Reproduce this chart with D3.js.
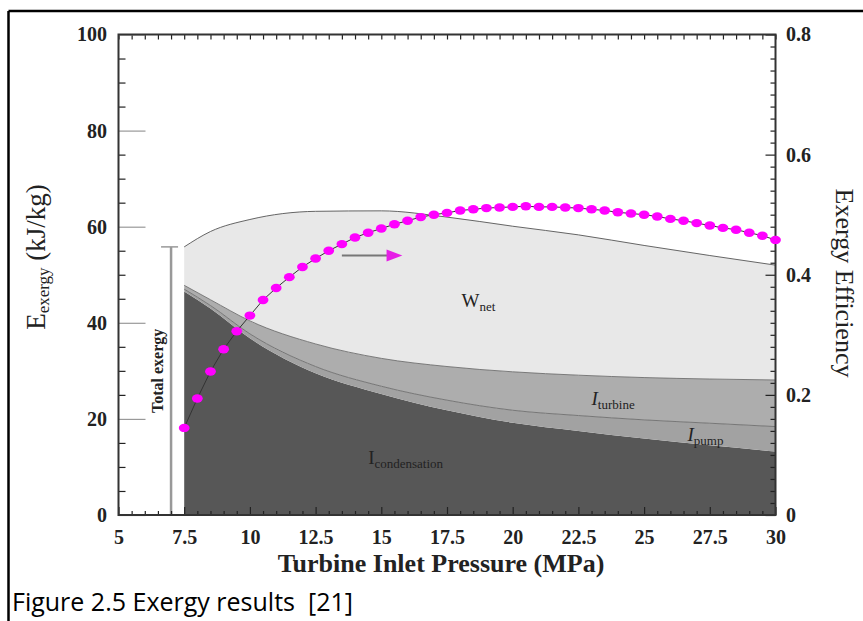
<!DOCTYPE html>
<html>
<head>
<meta charset="utf-8">
<script src="https://cdn.jsdelivr.net/npm/d3@7"></script>
<style>
  body { margin: 0; background: #fff; }
  svg { display: block; }
  .tick text { font-family: "Liberation Serif", "Times New Roman", serif; font-weight: bold; font-size: 20px; fill: #222; }
</style>
</head>
<body>
<div id="chart"></div>
<script>
// stacked exergy components (kJ/kg) read at these pressures (MPa)
var pressure = [7.5, 8.5, 10, 12.5, 15, 17.5, 20, 22.5, 25, 27.5, 30];
var condensation = [46.5, 43.0, 36.8, 29.5, 25.2, 21.8, 19.2, 17.5, 15.9, 14.5, 13.2];
var pump = [0.5, 0.6, 0.9, 1.4, 1.6, 2.1, 2.6, 3.2, 3.9, 4.6, 5.2];
var turbine = [0.8, 1.2, 2.7, 4.7, 5.8, 7.0, 8.0, 8.4, 8.8, 9.2, 9.7];
var wnet = [8.0, 14.2, 21.1, 27.6, 30.7, 31.1, 30.3, 29.2, 27.5, 25.7, 23.9];

// exergy efficiency points
var effPressure = [7.5, 8, 8.5, 9, 9.5, 10, 10.5, 11, 11.5, 12, 12.5, 13, 13.5, 14, 14.5,
  15, 15.5, 16, 16.5, 17, 17.5, 18, 18.5, 19, 19.5, 20, 20.5, 21, 21.5, 22, 22.5,
  23, 23.5, 24, 24.5, 25, 25.5, 26, 26.5, 27, 27.5, 28, 28.5, 29, 29.5, 30];
var efficiency = [0.145, 0.194, 0.239, 0.276, 0.306, 0.332, 0.358, 0.378, 0.396, 0.413,
  0.427, 0.440, 0.451, 0.462, 0.470, 0.477, 0.484, 0.490, 0.496, 0.500, 0.503, 0.507,
  0.509, 0.511, 0.512, 0.513, 0.514, 0.513, 0.513, 0.512, 0.511, 0.509, 0.507, 0.504,
  0.502, 0.500, 0.497, 0.493, 0.490, 0.486, 0.482, 0.478, 0.475, 0.470, 0.465, 0.458];

var xTicks = [5, 7.5, 10, 12.5, 15, 17.5, 20, 22.5, 25, 27.5, 30];
var yTicks = [0, 20, 40, 60, 80, 100];
var effTicks = [0, 0.2, 0.4, 0.6, 0.8];

var W = 863, H = 621;
var svg = d3.select("#chart").append("svg").attr("width", W).attr("height", H);

var x = d3.scaleLinear().domain([5, 30]).range([118.5, 775.5]);
var y = d3.scaleLinear().domain([0, 100]).range([515, 34.5]);
var yR = d3.scaleLinear().domain([0, 0.8]).range([515, 34.5]);

// outer frame (top + left)
svg.append("line").attr("x1", 8.5).attr("y1", 11).attr("x2", W).attr("y2", 11)
  .attr("stroke", "#000").attr("stroke-width", 2.5);
svg.append("line").attr("x1", 8.5).attr("y1", 11).attr("x2", 8.5).attr("y2", H)
  .attr("stroke", "#000").attr("stroke-width", 2.5);

// stacked areas
var table = pressure.map(function(p, i) {
  return {p: p, cond: condensation[i], pump: pump[i], turb: turbine[i], wnet: wnet[i]};
});
var keys = ["cond", "pump", "turb", "wnet"];
var fills = {cond: "#575757", pump: "#a2a2a2", turb: "#adadad", wnet: "#e8e8e8"};
var series = d3.stack().keys(keys)(table);

var area = d3.area()
  .x(function(d) { return x(d.data.p); })
  .y0(function(d) { return y(d[0]); })
  .y1(function(d) { return y(d[1]); })
  .curve(d3.curveMonotoneX);
var topLine = d3.line()
  .x(function(d) { return x(d.data.p); })
  .y(function(d) { return y(d[1]); })
  .curve(d3.curveMonotoneX);

svg.append("g").selectAll("path").data(series).enter().append("path")
  .attr("d", area)
  .attr("fill", function(s) { return fills[s.key]; });
svg.append("g").selectAll("path").data(series).enter().append("path")
  .attr("d", topLine)
  .attr("fill", "none")
  .attr("stroke", function(s) { return s.key == "wnet" ? "#555" : "#6e6e6e"; })
  .attr("stroke-width", function(s) { return s.key == "cond" ? 0 : 0.9; });

// total exergy bracket
var total0 = series[3][0][1];
svg.append("line").attr("x1", x(7.0)).attr("x2", x(7.0)).attr("y1", y(total0)).attr("y2", y(0))
  .attr("stroke", "#999").attr("stroke-width", 2.5);
svg.append("line").attr("x1", x(7.0) - 10).attr("x2", x(7.0) + 7).attr("y1", y(total0)).attr("y2", y(total0))
  .attr("stroke", "#999").attr("stroke-width", 1.5);
svg.append("text")
  .attr("transform", "translate(" + (x(7.0) - 8) + "," + y(30) + ") rotate(-90)")
  .attr("text-anchor", "middle")
  .attr("font-family", "Liberation Serif, serif").attr("font-size", 16).attr("font-weight", "bold")
  .attr("fill", "#222")
  .text("Total exergy");

// axes ticks
function styleAxis(g, color) {
  g.select(".domain").remove();
  g.selectAll(".tick line").attr("stroke", color || "#222").attr("stroke-width", 1.2);
}
var minorX = d3.range(5, 30.01, 0.5).filter(function(v) { return xTicks.indexOf(v) < 0; });
svg.append("g").attr("transform", "translate(0,515)")
  .call(d3.axisBottom(x).tickValues(minorX).tickSize(-4).tickFormat(""))
  .call(styleAxis);
svg.append("g").attr("transform", "translate(0,515)")
  .call(d3.axisBottom(x).tickValues(xTicks).tickSize(-8).tickPadding(15)
    .tickFormat(function(d) { return d; }))
  .call(styleAxis);
svg.append("g").attr("transform", "translate(0,34.5)")
  .call(d3.axisTop(x).tickValues(d3.range(5, 30.01, 0.5)).tickSize(-5).tickFormat(""))
  .call(styleAxis);

var minorY = d3.range(0, 100.01, 5).filter(function(v) { return v % 20 != 0; });
svg.append("g").attr("transform", "translate(" + x(5) + ",0)")
  .call(d3.axisLeft(y).tickValues(minorY).tickSize(-7).tickFormat(""))
  .call(styleAxis);
svg.append("g").attr("transform", "translate(" + x(5) + ",0)")
  .call(d3.axisLeft(y).tickValues(yTicks).tickSize(-27).tickPadding(11.5))
  .call(styleAxis, "#999");

var minorR = d3.range(0, 0.8001, 0.02).filter(function(v) { return Math.round(v * 100) % 20 != 0; });
svg.append("g").attr("transform", "translate(" + x(30) + ",0)")
  .call(d3.axisRight(yR).tickValues(minorR).tickSize(-5).tickFormat(""))
  .call(styleAxis);
svg.append("g").attr("transform", "translate(" + x(30) + ",0)")
  .call(d3.axisRight(yR).tickValues(effTicks).tickSize(-10).tickPadding(10.5)
    .tickFormat(function(d) { return d == 0 ? "0" : d.toFixed(1); }))
  .call(styleAxis);

// plot box
svg.append("rect").attr("x", x(5)).attr("y", y(100))
  .attr("width", x(30) - x(5)).attr("height", y(0) - y(100))
  .attr("fill", "none").attr("stroke", "#333").attr("stroke-width", 2);

// efficiency curve
var effData = effPressure.map(function(p, i) { return {p: p, e: efficiency[i]}; });
svg.append("path").datum(effData)
  .attr("d", d3.line().x(function(d) { return x(d.p); }).y(function(d) { return yR(d.e); }))
  .attr("fill", "none").attr("stroke", "#333").attr("stroke-width", 1);
svg.append("g").selectAll("ellipse").data(effData).enter().append("ellipse")
  .attr("cx", function(d) { return x(d.p); })
  .attr("cy", function(d) { return yR(d.e); })
  .attr("rx", 5.4).attr("ry", 4.2)
  .attr("fill", "#ff00ff");

// arrow pointing to efficiency axis
var ay = y(54);
svg.append("line").attr("x1", x(13.5)).attr("x2", x(15.4)).attr("y1", ay).attr("y2", ay)
  .attr("stroke", "#777").attr("stroke-width", 2);
svg.append("path")
  .attr("d", "M" + x(15.2) + "," + (ay - 6) + "L" + x(15.8) + "," + ay + "L" + x(15.2) + "," + (ay + 6) + "Z")
  .attr("fill", "#e61ee6");

// region labels
function label(px, ey, main, sub, italic) {
  var t = svg.append("text").attr("x", x(px)).attr("y", y(ey))
    .attr("font-family", "Liberation Serif, serif").attr("fill", "#222");
  t.append("tspan").attr("font-size", 19).attr("font-style", italic ? "italic" : "normal").text(main);
  t.append("tspan").attr("font-size", 13).attr("dy", 4).text(sub);
}
label(18.05, 43.3, "W", "net", false);
label(23.0, 22.8, "I", "turbine", true);
label(26.65, 15.4, "I", "pump", true);
label(14.5, 10.6, "I", "condensation", false);

// axis titles
svg.append("text").attr("x", 441).attr("y", 572).attr("text-anchor", "middle")
  .attr("font-family", "Liberation Serif, serif").attr("font-size", 26).attr("font-weight", "bold")
  .attr("fill", "#222")
  .text("Turbine Inlet Pressure (MPa)");

var yl = svg.append("text").attr("transform", "translate(45,257) rotate(-90)")
  .attr("text-anchor", "middle")
  .attr("font-family", "Liberation Serif, serif").attr("font-size", 27).attr("fill", "#222");
yl.append("tspan").text("E");
yl.append("tspan").attr("font-size", 17).attr("dy", 4).text("exergy");
yl.append("tspan").attr("dy", -4).text(" (kJ/kg)");

svg.append("text").attr("transform", "translate(836,283) rotate(90)")
  .attr("text-anchor", "middle")
  .attr("font-family", "Liberation Serif, serif").attr("font-size", 26).attr("fill", "#222")
  .text("Exergy Efficiency");

// caption
svg.append("text").attr("x", 12).attr("y", 611)
  .attr("font-family", "Open Sans, sans-serif").attr("font-size", 25).attr("fill", "#000")
  .text("Figure 2.5 Exergy results\u00a0\u00a0[21]");
</script>
</body>
</html>
